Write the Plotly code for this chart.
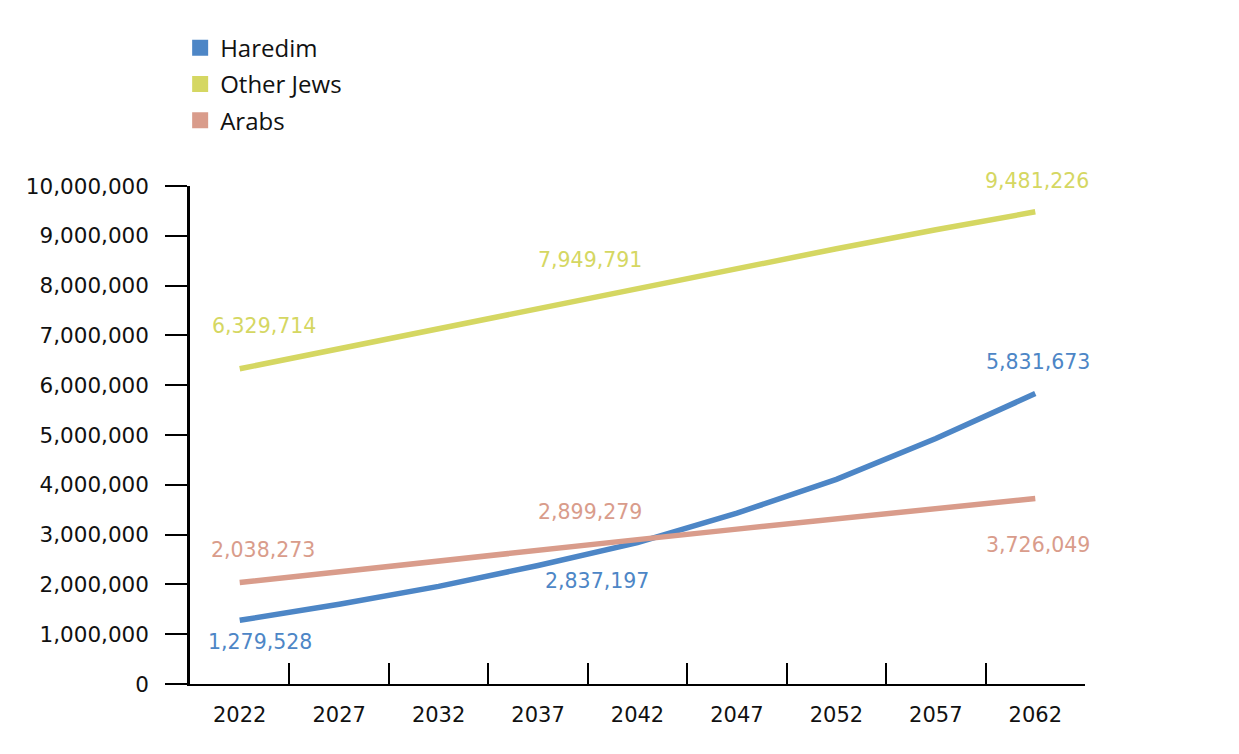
import plotly.graph_objects as go

years = ["2022", "2027", "2032", "2037", "2042", "2047", "2052", "2057", "2062"]
haredim = [1279528, 1600000, 1960000, 2380000, 2837197, 3430000, 4110000, 4930000, 5831673]
other_jews = [6329714, 6730000, 7140000, 7540000, 7949791, 8350000, 8740000, 9120000, 9481226]
arabs = [2038273, 2260000, 2470000, 2690000, 2899279, 3110000, 3320000, 3530000, 3726049]

series = [
    ("Haredim", haredim, "#4d86c6"),
    ("Other Jews", other_jews, "#d5d762"),
    ("Arabs", arabs, "#d99c8b"),
]

# labelled points: (series index, year index, xshift, yshift)
label_spots = [
    (0, 0, 20, -22), (1, 0, 24, 43), (2, 0, 23, 32),
    (1, 4, -48, 28), (2, 4, -48, 28), (0, 4, -41, -38),
    (1, 8, 2, 31), (0, 8, 3, 32), (2, 8, 3, -47),
]

fig = go.Figure()
for name, vals, col in series:
    fig.add_trace(go.Scatter(x=years, y=vals, mode="lines", name=name,
                             line=dict(color=col, width=5.5), showlegend=False,
                             hoverinfo="skip"))
for i, (name, vals, col) in enumerate(series):
    fig.add_trace(go.Scatter(x=[None], y=[None], mode="markers", name=name,
                             marker=dict(symbol="square", size=16, color=col),
                             legendgroup=f"g{i}", showlegend=True))

annotations = []
for si, yi, dx, dy in label_spots:
    name, vals, col = series[si]
    annotations.append(dict(x=yi, y=vals[yi], xref="x", yref="y",
                            text=f"{vals[yi]:,}", showarrow=False,
                            xshift=dx, yshift=dy,
                            font=dict(family="DejaVu Sans", size=20.5, color=col)))

fig.update_layout(
    width=1239, height=754,
    margin=dict(l=190, r=154, t=186, b=70),
    plot_bgcolor="white", paper_bgcolor="white",
    annotations=annotations,
    legend=dict(x=-0.011, y=1.322, xanchor="left", yanchor="top",
                font=dict(family="Open Sans", size=24, color="#111111"),
                traceorder="grouped", tracegroupgap=2,
                bgcolor="rgba(0,0,0,0)"),
    xaxis=dict(type="category", range=[-0.5, 8.5], showline=True, linecolor="black",
               linewidth=2, ticks="inside", tickson="boundaries", ticklen=21,
               tickwidth=2, tickcolor="black", showgrid=False, zeroline=False,
               ticklabelstandoff=11,
               tickfont=dict(family="DejaVu Sans", size=21, color="#111111")),
    yaxis=dict(range=[0, 10000000], tickvals=[i * 1000000 for i in range(11)],
               tickformat=",d", showline=True, linecolor="black", linewidth=2.5,
               ticks="outside", ticklen=22, tickwidth=2, tickcolor="black",
               showgrid=False, zeroline=False, ticklabelstandoff=12,
               tickfont=dict(family="DejaVu Sans", size=21.5, color="#111111")),
)

fig.write_html("out.html")
